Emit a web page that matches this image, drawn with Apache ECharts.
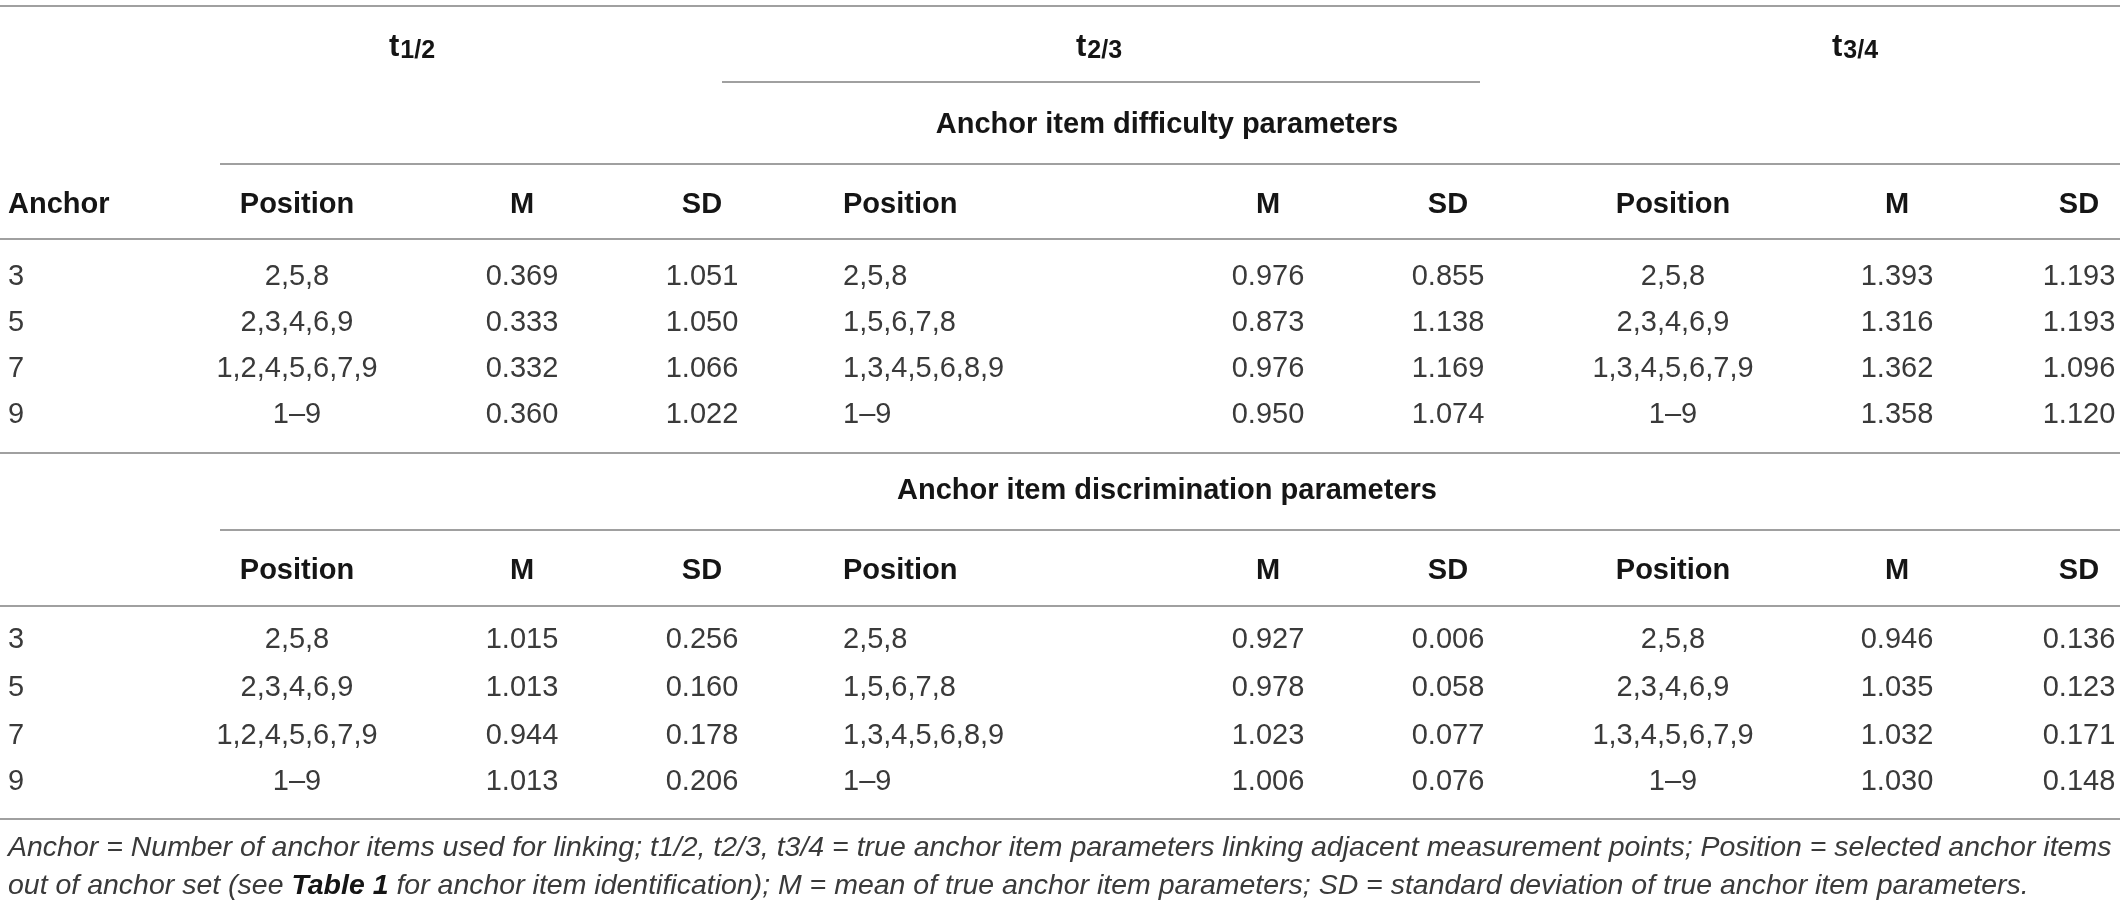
<!DOCTYPE html>
<html style="height: 100%">
<head>
<meta charset="UTF-8" />
<title>Anchor item parameters</title>
<style>
html, body { margin: 0; padding: 0; background: #ffffff; }
#tableBox { width: 2120px; height: 905px; }
</style>
</head>
<body>
	<div id="tableBox"></div>

	<script src="https://cdn.jsdelivr.net/npm/echarts@6/dist/echarts.min.js"></script>
	<script>
		// table data
		var anchors = ['3', '5', '7', '9'];
		var groupTitles = ['1/2', '2/3', '3/4'];
		var colHeads = ['Position', 'M', 'SD'];
		var blockTitles = ['Anchor item difficulty parameters', 'Anchor item discrimination parameters'];

		var pos12 = ['2,5,8', '2,3,4,6,9', '1,2,4,5,6,7,9', '1\u20139'];
		var pos23 = ['2,5,8', '1,5,6,7,8', '1,3,4,5,6,8,9', '1\u20139'];
		var pos34 = ['2,5,8', '2,3,4,6,9', '1,3,4,5,6,7,9', '1\u20139'];

		// difficulty
		var diffM12 = [0.369, 0.333, 0.332, 0.360];
		var diffSD12 = [1.051, 1.050, 1.066, 1.022];
		var diffM23 = [0.976, 0.873, 0.976, 0.950];
		var diffSD23 = [0.855, 1.138, 1.169, 1.074];
		var diffM34 = [1.393, 1.316, 1.362, 1.358];
		var diffSD34 = [1.193, 1.193, 1.096, 1.120];

		// discrimination
		var discM12 = [1.015, 1.013, 0.944, 1.013];
		var discSD12 = [0.256, 0.160, 0.178, 0.206];
		var discM23 = [0.927, 0.978, 1.023, 1.006];
		var discSD23 = [0.006, 0.058, 0.077, 0.076];
		var discM34 = [0.946, 1.035, 1.032, 1.030];
		var discSD34 = [0.136, 0.123, 0.171, 0.148];

		var note1 = 'Anchor = Number of anchor items used for linking; t1/2, t2/3, t3/4 = true anchor item parameters linking adjacent measurement points; Position = selected anchor items';
		var note2a = 'out of anchor set (see ';
		var note2b = 'Table 1';
		var note2c = ' for anchor item identification); M = mean of true anchor item parameters; SD = standard deviation of true anchor item parameters.';

		// layout
		var W = 2120;
		var fontFam = '"Liberation Sans", Arial, Helvetica, sans-serif';
		var fs = 29;
		var bodyColor = '#3a3a3a';
		var headColor = '#151515';
		var lineColor = '#a0a0a0';
		// column x: [x, align]
		var cols = [
			[8, 'left'],
			[297, 'center'], [522, 'center'], [702, 'center'],
			[843, 'left'], [1268, 'center'], [1448, 'center'],
			[1673, 'center'], [1897, 'center'], [2079, 'center']
		];
		var groupX = [412, 1099, 1855];
		var blockY = [
			{ title: 125, head: 205, rows: [277, 323, 369, 415] },
			{ title: 491, head: 571, rows: [640, 688, 736, 782] }
		];

		var els = [];
		function hline(y, x1, x2) {
			els.push({ type: 'line', shape: { x1: x1, y1: y, x2: x2, y2: y },
				style: { stroke: lineColor, lineWidth: 2 } });
		}
		function txt(x, y, s, align, bold, color) {
			els.push({ type: 'text', x: x, y: y, style: {
				text: s, fontSize: fs, fontFamily: fontFam,
				fontWeight: bold ? 'bold' : 'normal',
				fill: color || bodyColor, align: align, verticalAlign: 'middle' } });
		}

		// rules
		hline(6, 0, W);
		hline(82, 722, 1480);
		hline(164, 220, W);
		hline(239, 0, W);
		hline(453, 0, W);
		hline(530, 220, W);
		hline(606, 0, W);
		hline(819, 0, W);

		// group headers t1/2 ...
		groupTitles.forEach(function (g, i) {
			els.push({ type: 'text', x: groupX[i], y: 48, style: {
				text: '{t|t}{s|' + g + '}', align: 'center', verticalAlign: 'middle',
				rich: {
					t: { fontSize: 31, fontWeight: 'bold', fontFamily: fontFam, fill: headColor, lineHeight: 32, verticalAlign: 'top' },
					s: { fontSize: 25, fontWeight: 'bold', fontFamily: fontFam, fill: headColor, lineHeight: 25, verticalAlign: 'bottom', padding: [18, 0, 0, 1] }
				} } });
		});

		var blockData = [
			[pos12, diffM12, diffSD12, pos23, diffM23, diffSD23, pos34, diffM34, diffSD34],
			[pos12, discM12, discSD12, pos23, discM23, discSD23, pos34, discM34, discSD34]
		];

		blockY.forEach(function (b, bi) {
			txt(1167, b.title, blockTitles[bi], 'center', true, headColor);
			if (bi === 0) txt(cols[0][0], b.head, 'Anchor', 'left', true, headColor);
			for (var c = 1; c < cols.length; c++) {
				txt(cols[c][0], b.head, colHeads[(c - 1) % 3], cols[c][1], true, headColor);
			}
			anchors.forEach(function (a, r) {
				txt(cols[0][0], b.rows[r], a, 'left', false);
				blockData[bi].forEach(function (arr, c) {
					var v = arr[r];
					var s = typeof v === 'number' ? v.toFixed(3) : v;
					txt(cols[c + 1][0], b.rows[r], s, cols[c + 1][1], false);
				});
			});
		});

		// footnote, sized to the table width
		var ctx = document.createElement('canvas').getContext('2d');
		ctx.font = 'italic 28px ' + fontFam;
		var noteFs = 28 * 2104 / ctx.measureText(note1).width;
		els.push({ type: 'text', x: 8, y: 848, style: {
			text: note1, fontSize: noteFs, fontStyle: 'italic', fontFamily: fontFam,
			fill: bodyColor, align: 'left', verticalAlign: 'middle' } });
		els.push({ type: 'text', x: 8, y: 886, style: {
			text: '{i|' + note2a + '}{b|' + note2b + '}{i|' + note2c + '}',
			align: 'left', verticalAlign: 'middle',
			rich: {
				i: { fontSize: noteFs, fontStyle: 'italic', fontFamily: fontFam, fill: bodyColor },
				b: { fontSize: noteFs, fontStyle: 'italic', fontWeight: 'bold', fontFamily: fontFam, fill: headColor }
			} } });

		var myChart = echarts.init(document.getElementById('tableBox'));
		myChart.setOption({
			backgroundColor: '#ffffff',
			animation: false,
			graphic: { elements: els }
		});
	</script>
</body>
</html>
